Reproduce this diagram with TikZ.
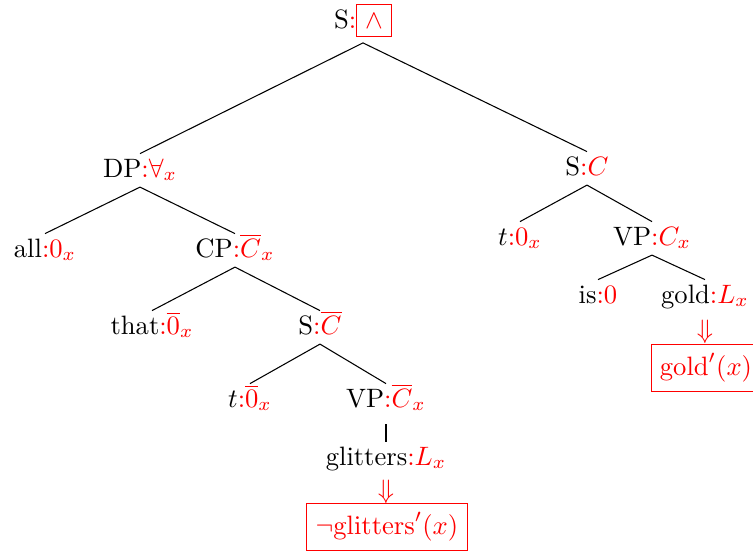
\documentclass[tikz,border=0pt]{standalone}
\usepackage{xcolor}
\newcommand{\redpart}[1]{\textcolor{red}{#1}}
\begin{document}
\begin{tikzpicture}[x=0.376pt,y=-0.376pt,
  tn/.style={anchor=base,inner sep=1.6pt,text height=7pt,text depth=2pt},
  edge/.style={draw=black,line width=0.4pt},
  redbox/.style={draw=red,text=red,inner xsep=3.3pt,minimum height=17.5pt,line width=0.4pt},
  dn/.style={text=red,inner sep=0pt}]
\useasboundingbox (0,0) rectangle (753,551);
\node[tn,text depth=3.8pt] (root) at (363,28) {S\redpart{:\fbox{$\wedge$}}};
\node[tn] (dp) at (140,177) {DP\redpart{:$\forall_x$}};
\node[tn] (sc) at (587,175) {S\redpart{:$C$}};
\node[tn] (all) at (45,257) {all\redpart{:$0_x$}};
\node[tn] (cp) at (235,257) {CP\redpart{:$\overline{C}_x$}};
\node[tn] (t1) at (520,245) {$t$\redpart{:$0_x$}};
\node[tn] (vp1) at (652,245) {VP\redpart{:$C_x$}};
\node[tn] (that) at (152,334) {that\redpart{:$\overline{0}_x$}};
\node[tn] (s2) at (320,334) {S\redpart{:$\overline{C}$}};
\node[tn] (t2) at (250,407) {$t$\redpart{:$\overline{0}_x$}};
\node[tn] (vp2) at (386,407) {VP\redpart{:$\overline{C}_x$}};
\node[tn] (gl) at (386,465) {glitters\redpart{:$L_x$}};
\node[dn] (a1) at (386,492) {$\Downarrow$};
\node[redbox] (b1) at (387,527) {$\neg\mathrm{glitters}'(x)$};
\node[tn] (is) at (598,303) {is\redpart{:$0$}};
\node[tn] (gold) at (705,303) {gold\redpart{:$L_x$}};
\node[dn] (a2) at (705,332) {$\Downarrow$};
\node[redbox] (b2) at (706,368) {$\mathrm{gold}'(x)$};
\draw[edge] (root.south) -- (dp.north);
\draw[edge] (root.south) -- (sc.north);
\draw[edge] (dp.south) -- (all.north);
\draw[edge] (dp.south) -- (cp.north);
\draw[edge] (cp.south) -- (that.north);
\draw[edge] (cp.south) -- (s2.north);
\draw[edge] (s2.south) -- (t2.north);
\draw[edge] (s2.south) -- (vp2.north);
\draw[edge,shorten <=2.6pt] (vp2.south) -- (gl.north);
\draw[edge] (sc.south) -- (t1.north);
\draw[edge] (sc.south) -- (vp1.north);
\draw[edge] (vp1.south) -- (is.north);
\draw[edge] (vp1.south) -- (gold.north);
\end{tikzpicture}
\end{document}
